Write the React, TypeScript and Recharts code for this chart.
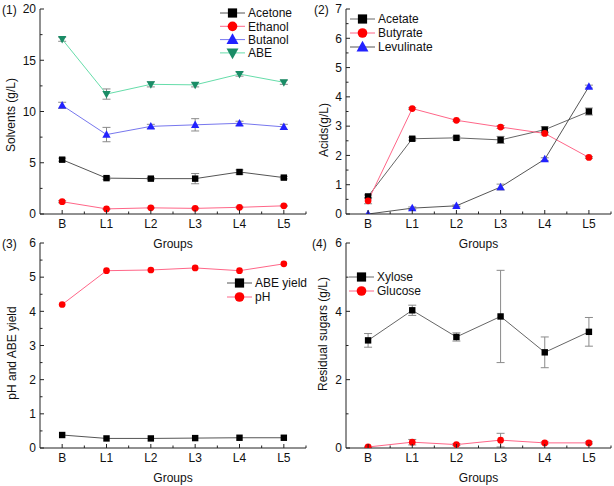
import React from "react";
import { LineChart, Line, XAxis, YAxis, ErrorBar } from "recharts";

// groups on the x axis
const groups = ["B", "L1", "L2", "L3", "L4", "L5"];

// (1) solvents, g/L
const acetone = [5.3, 3.5, 3.45, 3.45, 4.1, 3.55];
const acetoneErr = [0.15, 0.12, 0.1, 0.5, 0.2, 0.12];
const ethanol = [1.2, 0.5, 0.6, 0.55, 0.65, 0.8];
const ethanolErr = [0.1, 0.05, 0.05, 0.05, 0.05, 0.05];
const butanol = [10.6, 7.75, 8.55, 8.7, 8.85, 8.5];
const butanolErr = [0.3, 0.7, 0.2, 0.6, 0.2, 0.25];
const abe = [17.05, 11.7, 12.65, 12.6, 13.65, 12.85];
const abeErr = [0.2, 0.5, 0.25, 0.2, 0.2, 0.2];

// (2) acids, g/L
const acetate = [0.6, 2.57, 2.6, 2.53, 2.88, 3.5];
const acetateErr = [0.05, 0.05, 0.05, 0.12, 0.1, 0.12];
const butyrate = [0.45, 3.6, 3.2, 2.97, 2.75, 1.93];
const butyrateErr = [0.1, 0.03, 0.03, 0.05, 0.05, 0.03];
const levulinate = [0.0, 0.2, 0.28, 0.92, 1.87, 4.35];
const levulinateErr = [0.0, 0.04, 0.03, 0.1, 0.05, 0.05];

// (3) pH and ABE yield
const abeYield = [0.38, 0.28, 0.28, 0.29, 0.3, 0.3];
const ph = [4.2, 5.19, 5.21, 5.27, 5.19, 5.39];

// (4) residual sugars, g/L
const xylose = [3.15, 4.03, 3.25, 3.85, 2.8, 3.4];
const xyloseErr = [0.2, 0.15, 0.12, 1.35, 0.45, 0.42];
const glucose = [0.03, 0.17, 0.1, 0.23, 0.15, 0.15];
const glucoseErr = [0.02, 0.08, 0.03, 0.2, 0.03, 0.03];

const rows = groups.map((g, i) => ({
  group: g,
  acetone: acetone[i],
  acetoneErr: acetoneErr[i],
  ethanol: ethanol[i],
  ethanolErr: ethanolErr[i],
  butanol: butanol[i],
  butanolErr: butanolErr[i],
  abe: abe[i],
  abeErr: abeErr[i],
  acetate: acetate[i],
  acetateErr: acetateErr[i],
  butyrate: butyrate[i],
  butyrateErr: butyrateErr[i],
  levulinate: levulinate[i],
  levulinateErr: levulinateErr[i],
  abeYield: abeYield[i],
  ph: ph[i],
  xylose: xylose[i],
  xyloseErr: xyloseErr[i],
  glucose: glucose[i],
  glucoseErr: glucoseErr[i],
}));

const FONT = '"Liberation Sans", Arial, sans-serif';

type Shape = "square" | "circle" | "triangle" | "down";

const Marker = ({ cx, cy, shape, color, s }: any) => {
  if (cx == null || cy == null) return null;
  if (shape === "square")
    return <rect x={cx - s} y={cy - s} width={s * 2} height={s * 2} fill={color} />;
  if (shape === "circle") return <circle cx={cx} cy={cy} r={s * 1.05} fill={color} />;
  const w = s * 1.3;
  if (shape === "triangle")
    return (
      <polygon
        points={`${cx},${cy - w * 1.05} ${cx + w},${cy + w * 0.75} ${cx - w},${cy + w * 0.75}`}
        fill={color}
      />
    );
  return (
    <polygon
      points={`${cx},${cy + w * 1.05} ${cx + w},${cy - w * 0.75} ${cx - w},${cy - w * 0.75}`}
      fill={color}
    />
  );
};

interface Series {
  key: string;
  name: string;
  shape: Shape;
  line: string;
  fill: string;
  err?: string;
}

interface PanelDef {
  left: number;
  top: number;
  axisX: number;
  plotTop: number;
  plotBottom: number;
  right: number;
  domain: [number, number];
  ticks: number[];
  major: (v: number) => boolean;
  tag: string;
  tagX: number;
  title: string;
  titleX: number;
  titleY: number;
  legendX: number;
  legendY: number;
  legendGap: number;
  series: Series[];
}

const panels: PanelDef[] = [
  {
    left: 0,
    top: 0,
    axisX: 40,
    plotTop: 9,
    plotBottom: 214,
    right: 306,
    domain: [0, 20],
    ticks: [0, 2.5, 5, 7.5, 10, 12.5, 15, 17.5, 20],
    major: (v) => v % 5 === 0,
    tag: "(1)",
    tagX: 2,
    title: "Solvents (g/L)",
    titleX: 15,
    titleY: 115,
    legendX: 220,
    legendY: 13,
    legendGap: 13.3,
    series: [
      { key: "acetone", name: "Acetone", shape: "square", line: "#555555", fill: "#000000", err: "acetoneErr" },
      { key: "ethanol", name: "Ethanol", shape: "circle", line: "#ff6688", fill: "#ff0000", err: "ethanolErr" },
      { key: "butanol", name: "Butanol", shape: "triangle", line: "#7777ee", fill: "#2222ff", err: "butanolErr" },
      { key: "abe", name: "ABE", shape: "down", line: "#66ddaa", fill: "#1a8c66", err: "abeErr" },
    ],
  },
  {
    left: 307,
    top: 0,
    axisX: 39,
    plotTop: 9,
    plotBottom: 214,
    right: 304,
    domain: [0, 7],
    ticks: [0, 0.5, 1, 1.5, 2, 2.5, 3, 3.5, 4, 4.5, 5, 5.5, 6, 6.5, 7],
    major: (v) => v % 1 === 0,
    tag: "(2)",
    tagX: 7,
    title: "Acids(g/L)",
    titleX: 21,
    titleY: 130,
    legendX: 43,
    legendY: 19,
    legendGap: 14,
    series: [
      { key: "acetate", name: "Acetate", shape: "square", line: "#666666", fill: "#000000", err: "acetateErr" },
      { key: "butyrate", name: "Butyrate", shape: "circle", line: "#ff6688", fill: "#ff0000", err: "butyrateErr" },
      { key: "levulinate", name: "Levulinate", shape: "triangle", line: "#555555", fill: "#2222ff", err: "levulinateErr" },
    ],
  },
  {
    left: 0,
    top: 243,
    axisX: 40,
    plotTop: 0,
    plotBottom: 205,
    right: 306,
    domain: [0, 6],
    ticks: [0, 0.5, 1, 1.5, 2, 2.5, 3, 3.5, 4, 4.5, 5, 5.5, 6],
    major: (v) => v % 1 === 0,
    tag: "(3)",
    tagX: 2,
    title: "pH and ABE yield",
    titleX: 16,
    titleY: 110,
    legendX: 227,
    legendY: 40,
    legendGap: 14,
    series: [
      { key: "abeYield", name: "ABE yield", shape: "square", line: "#555555", fill: "#000000" },
      { key: "ph", name: "pH", shape: "circle", line: "#ff6688", fill: "#ff0000" },
    ],
  },
  {
    left: 307,
    top: 243,
    axisX: 39,
    plotTop: 0,
    plotBottom: 205,
    right: 304,
    domain: [0, 6],
    ticks: [0, 1, 2, 3, 4, 5, 6],
    major: (v) => v % 2 === 0,
    tag: "(4)",
    tagX: 5,
    title: "Residual sugars (g/L)",
    titleX: 20,
    titleY: 91,
    legendX: 42,
    legendY: 34,
    legendGap: 14,
    series: [
      { key: "xylose", name: "Xylose", shape: "square", line: "#666666", fill: "#000000", err: "xyloseErr" },
      { key: "glucose", name: "Glucose", shape: "circle", line: "#ff6688", fill: "#ff0000", err: "glucoseErr" },
    ],
  },
];

const Panel = ({ p }: { p: PanelDef }) => {
  const W = 307;
  const H = 243;
  const step = (p.right - p.axisX) / groups.length;

  const yTick = (props: any) => {
    const v = props.payload.value;
    const y = props.payload.coordinate;
    const isMajor = p.major(v);
    return (
      <g key={`y-${v}`}>
        <line x1={p.axisX} x2={p.axisX + (isMajor ? 4 : 2.5)} y1={y} y2={y} stroke="#222" strokeWidth={1} />
        {isMajor && (
          <text x={p.axisX - 4} y={y + 4.3} textAnchor="end" fontSize={12} fontFamily={FONT} fill="#111">
            {v}
          </text>
        )}
      </g>
    );
  };

  const xTick = (props: any) => {
    const v = props.payload.value;
    const x = props.payload.coordinate;
    const b = p.plotBottom;
    return (
      <g key={`x-${v}`}>
        <line x1={x} x2={x} y1={b} y2={b - 4} stroke="#222" strokeWidth={1} />
        <line x1={x + step / 2} x2={x + step / 2} y1={b} y2={b - 2.5} stroke="#222" strokeWidth={1} />
        <text x={x} y={b + 13.5} textAnchor="middle" fontSize={12} fontFamily={FONT} fill="#111">
          {v}
        </text>
      </g>
    );
  };

  return (
    <div style={{ position: "absolute", left: p.left, top: p.top, width: W, height: H }}>
      <LineChart
        width={W}
        height={H}
        data={rows}
        margin={{ top: p.plotTop, right: W - p.right, left: 0, bottom: 0 }}
      >
        <XAxis
          dataKey="group"
          height={H - p.plotBottom}
          padding={{ left: step / 2, right: step / 2 }}
          stroke="#222"
          tickLine={false}
          tick={xTick}
          interval={0}
        />
        <YAxis
          width={p.axisX}
          domain={p.domain}
          ticks={p.ticks}
          type="number"
          allowDataOverflow
          stroke="#222"
          tickLine={false}
          tick={yTick}
          interval={0}
        />
        {p.series.map((s) => (
          <Line
            key={s.key}
            dataKey={s.key}
            type="linear"
            stroke={s.line}
            strokeWidth={1}
            isAnimationActive={false}
            activeDot={false}
            dot={(d: any) => (
              <Marker key={`${s.key}-${d.index}`} cx={d.cx} cy={d.cy} shape={s.shape} color={s.fill} s={3.2} />
            )}
          >
            {s.err && (
              <ErrorBar dataKey={s.err} width={4} stroke="#8a8a8a" strokeWidth={1} direction="y" />
            )}
          </Line>
        ))}
      </LineChart>
    </div>
  );
};

const Overlay = () => (
  <svg
    width={614}
    height={486}
    style={{ position: "absolute", left: 0, top: 0, pointerEvents: "none", overflow: "visible" }}
    fontFamily={FONT}
  >
    {panels.map((p) => (
      <g key={p.tag} transform={`translate(${p.left},${p.top})`}>
        <text x={p.tagX} y={p.plotTop + 4.5} fontSize={12} fill="#111">
          {p.tag}
        </text>
        <text
          transform={`translate(${p.titleX},${p.titleY}) rotate(-90)`}
          textAnchor="middle"
          fontSize={12}
          fill="#111"
        >
          {p.title}
        </text>
        <text
          x={(p.axisX + p.right) / 2}
          y={p.plotBottom + 33.5}
          textAnchor="middle"
          fontSize={12}
          fill="#111"
        >
          Groups
        </text>
        {p.series.map((s, i) => {
          const y = p.legendY + i * p.legendGap;
          return (
            <g key={s.key}>
              <line x1={p.legendX} x2={p.legendX + 25} y1={y} y2={y} stroke={s.line} strokeWidth={1} />
              <Marker cx={p.legendX + 12.5} cy={y} shape={s.shape} color={s.fill} s={4.6} />
              <text x={p.legendX + 28} y={y + 4.3} fontSize={12} fill="#111">
                {s.name}
              </text>
            </g>
          );
        })}
      </g>
    ))}
  </svg>
);

export default function App() {
  return (
    <div
      style={{
        position: "fixed",
        left: 0,
        top: 0,
        width: 614,
        height: 486,
        background: "#fff",
        overflow: "hidden",
      }}
    >
      <style>{".recharts-surface{overflow:visible}"}</style>
      {panels.map((p) => (
        <Panel key={p.tag} p={p} />
      ))}
      <Overlay />
    </div>
  );
}
